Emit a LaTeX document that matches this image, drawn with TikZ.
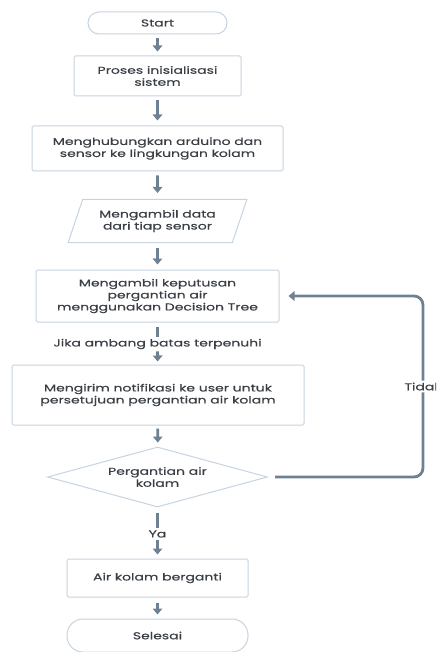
\documentclass[tikz,border=0pt]{standalone}
\usepackage{fontspec}
\setmainfont{Poppins}[FakeStretch=1.4, FakeBold=0.5]
\usetikzlibrary{shapes.geometric,arrows.meta}
\definecolor{arrowc}{HTML}{6E8193}
\definecolor{boxc}{HTML}{C6D3E0}
\definecolor{txtc}{HTML}{3A3F45}
\tikzset{
  every node/.style={font=\fontsize{10}{12}\selectfont, text=txtc, align=center},
  box/.style={draw=boxc, line width=1pt, rectangle, rounded corners=1.5pt, inner sep=0pt},
  term/.style={draw=boxc, line width=1pt, rectangle, inner sep=0pt},
  para/.style={draw=boxc, line width=1pt, trapezium, trapezium left angle=63, trapezium right angle=117, trapezium stretches=true, inner sep=0pt},
  dia/.style={draw=boxc, line width=1pt, diamond, shape aspect=3.67, inner sep=0pt},
  lbl/.style={inner sep=2pt},
  flow/.style={draw=arrowc, line width=2.8pt, -{Triangle[width=9.5pt,length=6pt]}},
  flowline/.style={draw=arrowc, line width=2.8pt},
}
\begin{document}
\begin{tikzpicture}[x=1pt,y=-1pt]
\useasboundingbox (0,0) rectangle (436,652);
\clip (0,0) rectangle (436,652);
\node[term, rounded corners=11pt, minimum width=139pt, minimum height=22pt] (start) at (157.5,23) {Start};
\node[box, minimum width=167pt, minimum height=40pt] (init) at (157.5,76) {Proses inisialisasi\\sistem};
\node[box, minimum width=251pt, minimum height=45pt] (hub) at (157.5,148.5) {Menghubungkan arduino dan\\sensor ke lingkungan kolam};
\node[para, minimum width=179pt, minimum height=43pt] (data) at (157.5,221) {Mengambil data\\dari tiap sensor};
\node[box, minimum width=243pt, minimum height=52pt] (dt) at (157.5,296) {Mengambil keputusan\\pergantian air\\menggunakan Decision Tree};
\node[lbl] (jika) at (157.5,344) {Jika ambang batas terpenuhi};
\node[box, minimum width=292pt, minimum height=60pt] (notif) at (158,395) {Mengirim notifikasi ke user untuk\\persetujuan pergantian air kolam};
\node[dia, minimum width=220pt, minimum height=60pt] (dec) at (157.5,477) {Pergantian air\\kolam};
\node[lbl] (ya) at (157.5,534) {Ya};
\node[box, minimum width=181pt, minimum height=38pt] (air) at (157.5,578) {Air kolam berganti};
\node[term, rounded corners=16pt, minimum width=181pt, minimum height=33pt] (end) at (157.5,635.5) {Selesai};
\coordinate (c1) at (423,477);
\coordinate (c2) at (423,296);

\draw[flow, shorten <=4pt, shorten >=4pt] (start) -- (init);
\draw[flow, shorten <=4pt, shorten >=5pt] (init) -- (hub);
\draw[flow, shorten <=4pt, shorten >=6pt] (hub) -- (data);
\draw[flow, shorten <=5pt, shorten >=5pt] (data) -- (dt);
\draw[flowline, shorten <=4pt, shorten >=0pt] (dt) -- (jika);
\draw[flow, shorten <=0pt, shorten >=3pt] (jika) -- (notif);
\draw[flow, shorten <=3pt, shorten >=4pt] (notif) -- (dec);
\draw[flowline, shorten <=5pt, shorten >=0pt] (dec) -- (ya);
\draw[flow, shorten <=0pt, shorten >=4pt] (ya) -- (air);
\draw[flow, shorten <=5pt, shorten >=4pt] (air) -- (end);
\draw[flow, rounded corners=9pt, shorten <=7pt, shorten >=9pt] (dec.east) -- (c1) -- node[pos=0.5, fill=white, inner sep=2pt, text=txtc] {Tidak} (c2) -- (dt.east);
\end{tikzpicture}
\end{document}
